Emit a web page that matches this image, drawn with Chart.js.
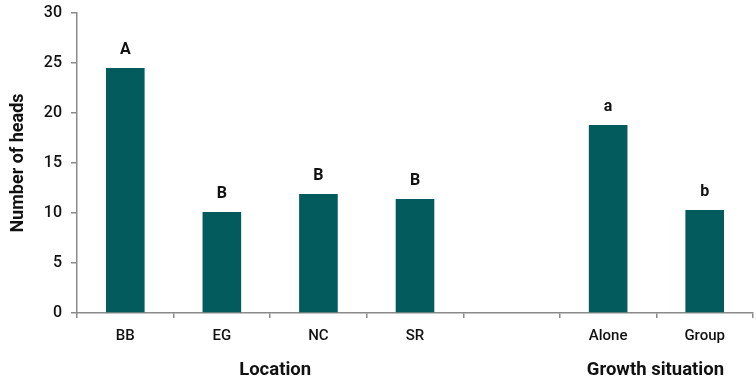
<!DOCTYPE html>
<html><head><meta charset="utf-8">
<script src="https://cdn.jsdelivr.net/npm/chart.js@4"></script>
<style>html,body{margin:0;padding:0;background:#fff}#wrap{width:756px;height:386px}</style>
</head><body><div id="wrap"><canvas id="c" width="756" height="386"></canvas></div>
<script>
const categories = ['BB', 'EG', 'NC', 'SR', '', 'Alone', 'Group'];
const heads = [24.5, 10.1, 11.9, 11.4, null, 18.8, 10.3];
const letters = ['A', 'B', 'B', 'B', '', 'a', 'b'];
const groupNames = ['Location', 'Growth situation'];
const groupMembers = [['BB', 'SR'], ['Alone', 'Group']];
const yTicks = [0, 5, 10, 15, 20, 25, 30];

const annot = {
  id: 'annot',
  afterDatasetsDraw(chart) {
    const ctx = chart.ctx;
    const meta = chart.getDatasetMeta(0);
    const xs = chart.scales.x;
    ctx.save();
    ctx.fillStyle = '#111';
    ctx.textAlign = 'center';
    ctx.textBaseline = 'middle';
    ctx.font = '700 16px Roboto';
    meta.data.forEach((bar, i) => {
      if (heads[i] == null || !letters[i]) return;
      ctx.fillText(letters[i], bar.x, bar.y - 18);
    });
    ctx.font = '700 18.5px Roboto';
    groupNames.forEach((g, k) => {
      const a = xs.getPixelForValue(categories.indexOf(groupMembers[k][0]));
      const b = xs.getPixelForValue(categories.indexOf(groupMembers[k][1]));
      ctx.fillText(g, (a + b) / 2 + (k === 0 ? 5 : -1), 370);
    });
    ctx.restore();
  }
};

new Chart(document.getElementById('c'), {
  type: 'bar',
  data: {
    labels: categories,
    datasets: [{
      data: heads,
      backgroundColor: '#035B5E',
      borderWidth: 0,
      categoryPercentage: 1.0,
      barPercentage: 0.4
    }]
  },
  options: {
    responsive: false,
    animation: false,
    devicePixelRatio: 1,
    layout: { padding: { top: 13, right: 3, left: 0, bottom: 0 } },
    plugins: { legend: { display: false }, tooltip: { enabled: false } },
    scales: {
      x: {
        grid: { display: true, drawOnChartArea: false, drawTicks: true, tickLength: 5, color: '#8a8a8a', lineWidth: 1.5, offset: true },
        border: { display: true, color: '#8a8a8a', width: 1.5 },
        ticks: { color: '#111', font: { family: 'Roboto', size: 15, weight: '500' }, padding: 9, maxRotation: 0, autoSkip: false },
        afterFit(s) { s.height = 73; }
      },
      y: {
        min: 0, max: 30,
        afterBuildTicks(s) { s.ticks = yTicks.map(v => ({ value: v })); },
        grid: { display: true, drawOnChartArea: false, drawTicks: true, tickLength: 6, color: '#8a8a8a', lineWidth: 1.5 },
        border: { display: true, color: '#8a8a8a', width: 1.5 },
        ticks: { color: '#111', font: { family: 'Roboto', size: 16, weight: '500' }, padding: 9 },
        title: { display: true, text: 'Number of heads', color: '#111', font: { family: 'Roboto', size: 18, weight: '700' }, padding: { top: 8, bottom: 4 } },
        afterFit(s) { s.width = 77; s.paddingTop = 0; s.paddingBottom = 0; }
      }
    }
  },
  plugins: [annot]
});
</script>
</body></html>
